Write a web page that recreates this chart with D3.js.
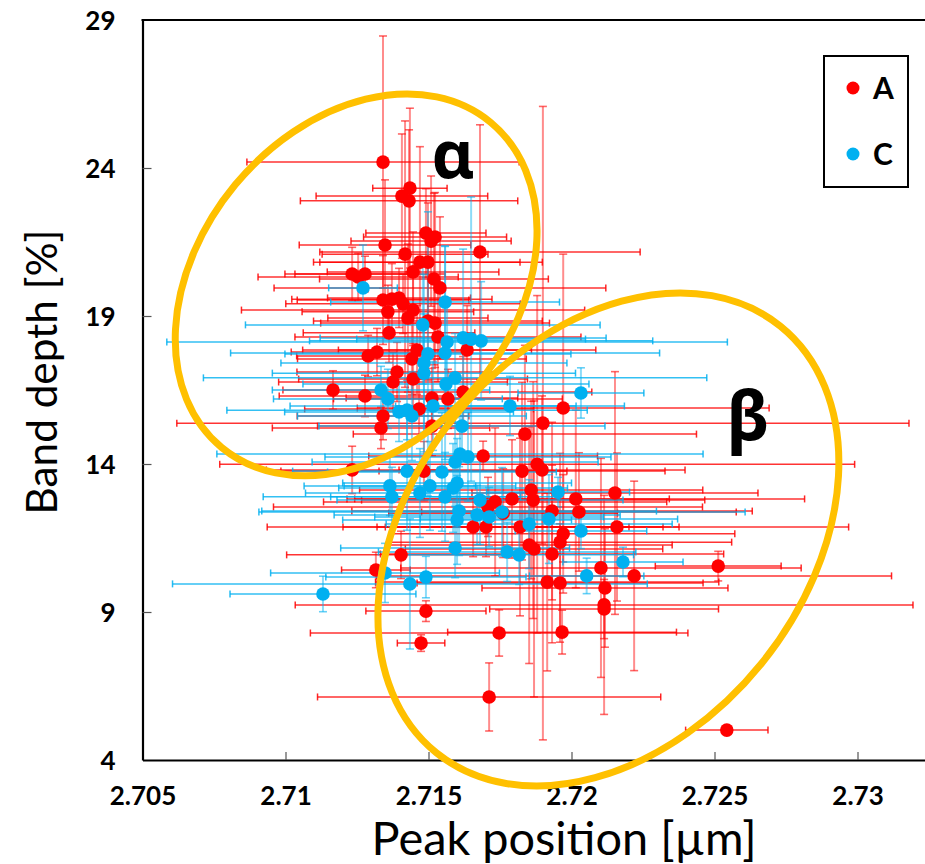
<!DOCTYPE html>
<html>
<head>
<meta charset="utf-8">
<script src="https://cdn.jsdelivr.net/npm/d3@7"></script>
<style>
  html, body { margin: 0; padding: 0; background: #fff; }
  svg { display: block; }
</style>
</head>
<body>
<svg id="chart" width="925" height="864"></svg>
<script>
// Each row: [peak position (µm), band depth (%), x error, y error]
const seriesA = [
  [2.71341,24.20,0.00476,4.26],[2.71435,23.32,0.0013,2.7],[2.71407,23.05,0.0030,2.1],
  [2.71432,22.89,0.0038,2.4],[2.71491,21.80,0.0021,1.5],[2.71523,21.67,0.0025,1.5],
  [2.71509,21.53,0.0028,2.2],[2.71348,21.40,0.0030,2.2],[2.71680,21.16,0.0056,4.3],
  [2.71418,21.09,0.0029,4.5],[2.71470,20.82,0.0035,3.9],[2.71498,20.82,0.0040,2.0],
  [2.71446,20.49,0.0030,1.35],[2.71233,20.42,0.0020,0.9],[2.71278,20.42,0.0028,0.6],
  [2.71254,20.32,0.0035,0.8],[2.71519,20.25,0.0040,2.9],[2.71540,19.95,0.0058,2.4],
  [2.71341,19.54,0.0030,1.5],[2.71372,19.57,0.0035,1.2],[2.71397,19.61,0.0025,1.0],
  [2.71411,19.41,0.0041,1.0],[2.71446,19.20,0.0060,1.2],[2.71358,19.14,0.0030,0.9],
  [2.71428,18.93,0.0028,2.5],[2.71498,18.83,0.0040,2.0],[2.71523,18.76,0.0040,1.5],
  [2.71362,18.43,0.0030,1.0],[2.71533,18.29,0.0050,1.5],[2.71635,17.85,0.0045,1.5],
  [2.71460,17.85,0.0040,1.5],[2.71320,17.78,0.0030,0.8],[2.71289,17.65,0.0025,0.7],
  [2.71442,17.55,0.0040,1.2],[2.71390,17.11,0.0035,1.0],[2.71446,16.87,0.0040,1.2],
  [2.71376,16.77,0.0040,1.0],[2.71166,16.50,0.00175,0.65],[2.71278,16.30,0.0030,0.7],
  [2.71512,16.23,0.0030,1.0],[2.71568,16.20,0.0040,1.0],[2.71621,16.43,0.0045,1.2],
  [2.71467,15.86,0.0040,1.0],[2.71341,15.62,0.0030,0.8],[2.71334,15.22,0.0038,0.7],
  [2.71512,15.28,0.0040,1.0],[2.71971,15.89,0.0072,5.2],[2.71900,15.38,0.0128,10.7],
  [2.71837,15.01,0.0060,3.0],[2.71691,14.27,0.0040,0.5],[2.71880,13.99,0.0111,5.7],
  [2.71897,13.80,0.0050,2.5],[2.71827,13.76,0.0050,3.0],[2.71484,13.76,0.0050,1.0],
  [2.71233,13.80,0.0030,0.8],[2.71859,13.12,0.0060,3.0],[2.71866,12.78,0.0060,4.0],
  [2.71792,12.82,0.0055,2.0],[2.71733,12.72,0.0060,2.5],[2.71708,12.55,0.0075,1.0],
  [2.71761,12.34,0.0040,1.5],[2.71932,12.41,0.0070,3.0],[2.72015,12.82,0.0080,3.0],
  [2.72026,12.38,0.0055,2.0],[2.72152,13.02,0.0050,4.1],[2.72159,11.87,0.0081,2.5],
  [2.71656,11.87,0.0072,1.0],[2.71701,11.87,0.0050,1.0],[2.71820,11.87,0.0050,3.0],
  [2.71971,11.64,0.0060,2.0],[2.71960,11.36,0.0060,3.0],[2.71852,11.26,0.0050,4.0],
  [2.71869,11.13,0.0045,5.0],[2.71932,10.96,0.0060,3.0],[2.71404,10.93,0.0040,0.8],
  [2.71316,10.42,0.0012,0.6],[2.72103,10.49,0.0070,3.7],[2.72513,10.55,0.0022,0.5],
  [2.72219,10.22,0.0090,3.2],[2.71915,10.01,0.0060,3.0],[2.71960,9.98,0.0050,2.0],
  [2.72117,9.81,0.0043,2.0],[2.72114,9.24,0.0108,3.7],[2.72114,9.10,0.0040,1.0],
  [2.71491,9.03,0.0021,0.35],[2.71747,8.29,0.0066,0.78],[2.71967,8.32,0.0040,0.74],
  [2.71474,7.95,0.00083,0.28],[2.71712,6.13,0.0060,1.15],[2.72543,5.01,0.00144,0.0]
];

const seriesC = [
  [2.71271,19.95,0.0012,1.45],[2.71558,19.47,0.0040,1.9],[2.71480,18.70,0.0062,2.0],
  [2.71565,18.12,0.0098,1.5],[2.71621,18.26,0.0050,3.0],[2.71649,18.22,0.0040,4.8],
  [2.71684,18.16,0.0060,2.0],[2.71558,17.75,0.0075,3.6],[2.71498,17.72,0.0050,4.8],
  [2.71484,17.41,0.0050,3.0],[2.71484,17.07,0.0053,2.0],[2.71593,16.91,0.0088,1.5],
  [2.71561,16.70,0.0050,1.5],[2.71334,16.50,0.0038,0.8],[2.71358,16.20,0.0040,1.0],
  [2.71516,15.96,0.0050,1.5],[2.71785,15.96,0.0040,1.0],[2.71397,15.76,0.0040,1.0],
  [2.71425,15.82,0.0063,1.0],[2.71442,15.62,0.0040,1.5],[2.71617,15.28,0.0050,1.2],
  [2.72033,16.40,0.0022,0.85],[2.71610,14.34,0.0085,2.0],[2.71638,14.24,0.0050,1.5],
  [2.71593,14.07,0.0050,1.5],[2.71425,13.76,0.0040,2.0],[2.71547,13.73,0.0040,2.0],
  [2.71600,13.36,0.0040,1.5],[2.71586,13.19,0.0040,1.5],[2.71505,13.26,0.0030,1.5],
  [2.71365,13.26,0.0030,1.0],[2.71372,12.89,0.0045,1.0],[2.71558,12.89,0.0040,1.5],
  [2.71470,13.02,0.0040,1.5],[2.71680,12.78,0.0050,1.5],[2.71757,12.38,0.0085,1.5],
  [2.71607,12.41,0.0069,1.5],[2.71670,12.28,0.0050,1.0],[2.71712,12.21,0.0040,1.0],
  [2.71600,12.11,0.0040,1.5],[2.71852,11.97,0.0050,1.5],[2.71921,12.14,0.0045,1.5],
  [2.71953,13.05,0.0025,0.5],[2.72033,11.74,0.0023,0.6],[2.71593,11.16,0.0040,1.0],
  [2.71775,11.03,0.0045,1.0],[2.71817,10.93,0.0040,1.0],[2.72180,10.69,0.0021,0.5],
  [2.72053,10.22,0.0020,0.6],[2.71491,10.18,0.0035,0.7],[2.71348,10.32,0.0040,1.0],
  [2.71435,9.95,0.0083,2.2],[2.71131,9.61,0.00325,0.6]
];

const xTicks = [2.705, 2.71, 2.715, 2.72, 2.725, 2.73];
const yTicks = [4, 9, 14, 19, 24, 29];
const legendLabels = ["A", "C"];
const seriesColors = ["#FF0000", "#00B0F0"];

// Group outlines: centre in data units, semi-axes in px, rotation in degrees;
// label anchor (lx, ly) in data units at the glyph baseline
const groups = [
  { label: "α", cx: 2.71247, cy: 20.05, rx: 211, ry: 157, rot: -50.4, lx: 2.71586, ly: 23.66, size: 66 },
  { label: "β", cx: 2.72129, cy: 11.45, rx: 274, ry: 197, rot: -51.1, lx: 2.72617, ly: 14.80, size: 68 }
];

const svg = d3.select("#chart");
const margin = { left: 142.5, top: 20, bottom: 760 };
const pxPerMilli = 28.6;

const x = d3.scaleLinear().domain([2.705, 2.7325])
  .range([margin.left, margin.left + 27.5 * pxPerMilli]);
const y = d3.scaleLinear().domain([4, 29]).range([margin.bottom, margin.top]);

const font = "Lato, 'Open Sans', 'Noto Sans', sans-serif";

// Axes
const gx = svg.append("g").attr("transform", `translate(0,${margin.bottom})`)
  .call(d3.axisBottom(x).tickValues(xTicks).tickSizeInner(-8).tickSizeOuter(0)
    .tickFormat(d => d3.format("")(+d.toFixed(3))));
const gy = svg.append("g").attr("transform", `translate(${margin.left},0)`)
  .call(d3.axisLeft(y).tickValues(yTicks).tickSizeInner(-9).tickSizeOuter(0));

[gx, gy].forEach(g => {
  g.select(".domain").attr("stroke", "#000").attr("stroke-width", 2.2);
  g.selectAll(".tick line").attr("stroke", "#555").attr("stroke-width", 1.2);
  g.selectAll(".tick text").attr("fill", "#000").attr("font-family", font)
    .attr("font-weight", 700).attr("font-size", 26);
});
gx.selectAll(".tick text").attr("y", 45).attr("dy", null);
gx.selectAll(".tick").filter(d => d === 2.705).select("line").remove();
gy.selectAll(".tick text").attr("x", -27).attr("dy", "0.36em");
gy.selectAll(".tick").filter(d => d === 4 || d === 29).select("line").remove();

// Top border of the plot frame
svg.append("line")
  .attr("x1", x(2.705) - 1).attr("x2", x(2.7325))
  .attr("y1", y(29)).attr("y2", y(29))
  .attr("stroke", "#000").attr("stroke-width", 2.2);

// Error bars and markers
const plot = svg.append("g");
const capH = 3.5, capV = 4;

function drawErrorBars(data, color) {
  const g = plot.append("g");
  data.forEach(([px, py, ex, ey]) => {
    const cx = x(px), cy = y(py);
    if (ey > 0) {
      const y1 = y(py + ey), y2 = y(py - ey);
      g.append("line").attr("x1", cx).attr("x2", cx).attr("y1", y1).attr("y2", y2)
        .attr("stroke", color).attr("stroke-width", 2).attr("stroke-opacity", 0.45);
      [y1, y2].forEach(v => g.append("line")
        .attr("x1", cx - capV).attr("x2", cx + capV).attr("y1", v).attr("y2", v)
        .attr("stroke", color).attr("stroke-width", 1.6).attr("stroke-opacity", 0.6));
    }
    if (ex > 0) {
      const x1 = x(px - ex), x2 = x(px + ex);
      g.append("line").attr("x1", x1).attr("x2", x2).attr("y1", cy).attr("y2", cy)
        .attr("stroke", color).attr("stroke-width", 1.5).attr("stroke-opacity", 0.8);
      [x1, x2].forEach(v => g.append("line")
        .attr("x1", v).attr("x2", v).attr("y1", cy - capH).attr("y2", cy + capH)
        .attr("stroke", color).attr("stroke-width", 1.5).attr("stroke-opacity", 0.85));
    }
  });
}

drawErrorBars(seriesA, seriesColors[0]);
drawErrorBars(seriesC, seriesColors[1]);

[[seriesA, seriesColors[0]], [seriesC, seriesColors[1]]].forEach(([data, color]) => {
  plot.append("g").selectAll("circle").data(data).join("circle")
    .attr("cx", d => x(d[0])).attr("cy", d => y(d[1])).attr("r", 6.8)
    .attr("fill", color);
});

// Group outlines and their labels
groups.forEach(gr => {
  svg.append("ellipse")
    .attr("cx", x(gr.cx)).attr("cy", y(gr.cy))
    .attr("rx", gr.rx).attr("ry", gr.ry)
    .attr("transform", `rotate(${gr.rot},${x(gr.cx)},${y(gr.cy)})`)
    .attr("fill", "none").attr("stroke", "#FFC000").attr("stroke-width", 7);
  svg.append("text").attr("x", x(gr.lx)).attr("y", y(gr.ly))
    .attr("text-anchor", "middle")
    .attr("font-family", "'Noto Sans', 'Open Sans', 'DejaVu Sans', sans-serif")
    .attr("font-weight", 700).attr("font-size", gr.size).attr("fill", "#000")
    .text(gr.label);
});

// Legend
const legend = svg.append("g");
legend.append("rect").attr("x", 824).attr("y", 56).attr("width", 84).attr("height", 131)
  .attr("fill", "#fff").attr("stroke", "#000").attr("stroke-width", 2);
legendLabels.forEach((lab, i) => {
  const ly = 88 + i * 66;
  legend.append("circle").attr("cx", 853).attr("cy", ly).attr("r", 6.5).attr("fill", seriesColors[i]);
  legend.append("text").attr("x", 873).attr("y", ly).attr("dy", "0.36em")
    .attr("font-family", font).attr("font-weight", 700).attr("font-size", 30)
    .attr("fill", "#000").text(lab);
});

// Axis titles, sized to their span
function fitText(sel, target) {
  const w = sel.node().getComputedTextLength();
  const fs = parseFloat(sel.attr("font-size"));
  sel.attr("font-size", fs * target / w);
}
const xt = svg.append("text").attr("x", 564).attr("y", 855).attr("text-anchor", "middle")
  .attr("font-family", font).attr("font-size", 44).attr("fill", "#000")
  .text("Peak position [µm]");
fitText(xt, 385);
const yt = svg.append("text").attr("transform", "translate(57,372) rotate(-90)")
  .attr("text-anchor", "middle")
  .attr("font-family", font).attr("font-size", 44).attr("fill", "#000")
  .text("Band depth [%]");
fitText(yt, 285);
</script>
</body>
</html>
